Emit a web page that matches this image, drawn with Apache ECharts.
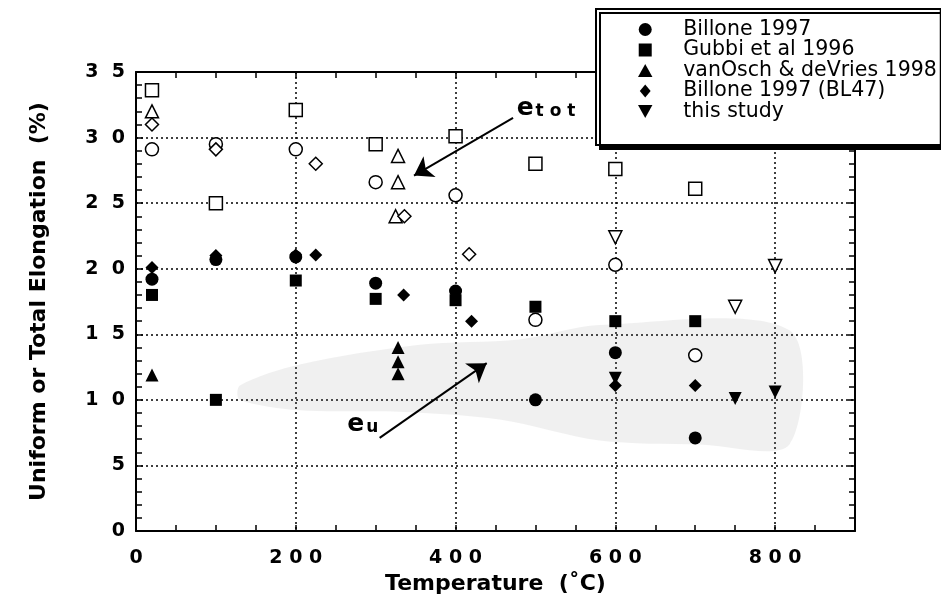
<!DOCTYPE html>
<html>
<head>
<meta charset="utf-8">
<script src="https://cdn.jsdelivr.net/npm/echarts@6/dist/echarts.min.js"></script>
<style>html,body{margin:0;padding:0;background:#fff;}#c{width:941px;height:613px;}</style>
</head>
<body>
<div id="c"></div>
<script>
// ---- data (temperature °C, elongation %) ----
const billoneU   = [[20,19.2],[100,20.7],[200,20.9],[300,18.9],[400,18.3],[500,10.0],[600,13.6],[700,7.1]];
const billoneT   = [[20,29.1],[100,29.5],[200,29.1],[300,26.6],[400,25.6],[500,16.1],[600,20.3],[700,13.4]];
const gubbiU     = [[20,18.0],[100,10.0],[200,19.1],[300,17.7],[400,17.6],[500,17.1],[600,16.0],[700,16.0]];
const gubbiT     = [[20,33.6],[100,25.0],[200,32.1],[300,29.5],[400,30.1],[500,28.0],[600,27.6],[700,26.1]];
const vanOschU   = [[20,11.9],[328,14.0],[328,12.9],[328,12.0]];
const vanOschT   = [[20,32.0],[328,28.6],[328,26.6],[325,24.0]];
const bl47U      = [[20,20.1],[100,21.0],[200,21.05],[225,21.05],[335,18.0],[420,16.0],[600,11.1],[700,11.1]];
const bl47T      = [[20,31.0],[100,29.1],[225,28.0],[336,24.0],[417,21.1]];
const studyU     = [[600,11.65],[750,10.1],[800,10.6]];
const studyT     = [[600,22.4],[750,17.1],[800,20.2]];
// shaded uniform-elongation band (outline in data units)
const bandTop    = [[130,11.1],[205,12.7],[355,14.2],[480,14.6],[580,15.7],[818,15.3]];
const bandBottom = [[818,6.6],[706,6.6],[580,6.9],[455,8.5],[330,9.1],[205,9.2],[130,10.0]];
// annotations
const arrowTot   = [[472,31.5],[348,27.1]];
const arrowU     = [[305,7.1],[439,12.8]];
const labelTot   = [489,32.0];
const labelU     = [277,7.9];
// axes
const xTicks = [0,200,400,600,800];
const yTicks = [0,5,10,15,20,25,30,35];
const legendNames = ['Billone 1997','Gubbi et al 1996','vanOsch & deVries 1998','Billone 1997 (BL47)','this study'];

const FONT = '"DejaVu Sans", sans-serif';
const spaced = (v, sep) => String(v).split('').join(sep);
const dotted = {color:'#000', width:1.5, type:[2,3]};

const chart = echarts.init(document.getElementById('c'), null, {renderer:'canvas'});

function filled(name, data, symbol, size, rot){
  return {name, type:'scatter', data, symbol, symbolSize:size, symbolRotate:rot||0,
    itemStyle:{color:'#000', opacity:1}, z:5, xAxisIndex:0, yAxisIndex:0};
}
function open(name, data, symbol, size, rot){
  return {name, type:'scatter', data, symbol, symbolSize:size, symbolRotate:rot||0,
    itemStyle:{color:'#fff', borderColor:'#000', borderWidth:1.5, opacity:1}, z:4, xAxisIndex:0, yAxisIndex:0};
}

const option = {
  animation:false,
  backgroundColor:'#fff',
  grid:{left:136, right:86, top:72, bottom:82, containLabel:false},
  xAxis:[
    {type:'value', position:'bottom', min:0, max:900, interval:50,
     axisLine:{show:true, onZero:false, lineStyle:{color:'#000', width:2}},
     axisTick:{show:true, inside:true, length:6, lineStyle:{color:'#000', width:1.5}},
     splitLine:{show:false},
     axisLabel:{margin:18, color:'#000', fontFamily:FONT, fontWeight:'bold', fontSize:19,
       formatter:v => xTicks.indexOf(v) >= 0 ? spaced(v,' ') : ''},
     name:'Temperature  (˚C)', nameLocation:'middle', nameGap:42,
     nameTextStyle:{color:'#000', fontFamily:FONT, fontWeight:'bold', fontSize:22}},
    {type:'value', position:'top', min:0, max:900, interval:50,
     axisLine:{show:true, onZero:false, lineStyle:{color:'#000', width:2}},
     axisTick:{show:true, inside:true, length:6, lineStyle:{color:'#000', width:1.5}},
     splitLine:{show:false}, axisLabel:{show:false}},
    {type:'value', position:'bottom', min:0, max:900, interval:200,
     axisLine:{show:false}, axisTick:{show:false}, axisLabel:{show:false},
     splitLine:{show:true, lineStyle:dotted}}
  ],
  yAxis:[
    {type:'value', position:'left', min:0, max:35, interval:5,
     axisLine:{show:true, onZero:false, lineStyle:{color:'#000', width:2}},
     axisTick:{show:true, inside:true, length:7, lineStyle:{color:'#000', width:1.5}},
     minorTick:{show:true, splitNumber:5, length:6, lineStyle:{color:'#000', width:1.5}},
     splitLine:{show:true, lineStyle:dotted},
     axisLabel:{margin:11, color:'#000', fontFamily:FONT, fontWeight:'bold', fontSize:19,
       formatter:v => yTicks.indexOf(v) >= 0 ? spaced(v,'  ') : ''},
     name:'Uniform or Total Elongation  (%)', nameLocation:'middle', nameGap:86, nameRotate:90,
     nameTextStyle:{color:'#000', fontFamily:FONT, fontWeight:'bold', fontSize:22}},
    {type:'value', position:'right', min:0, max:35, interval:5,
     axisLine:{show:true, onZero:false, lineStyle:{color:'#000', width:2}},
     axisTick:{show:true, inside:true, length:7, lineStyle:{color:'#000', width:1.5}},
     minorTick:{show:true, splitNumber:5, length:6, lineStyle:{color:'#000', width:1.5}},
     splitLine:{show:false}, axisLabel:{show:false}}
  ],
  legend:{
    orient:'vertical', left:596, top:9,
    padding:[10,4,23,42], itemGap:-0.5, itemWidth:66, itemHeight:13,
    backgroundColor:'#fff', borderColor:'#000', borderWidth:2,
    shadowColor:'#000', shadowBlur:0, shadowOffsetX:4, shadowOffsetY:4,
    textStyle:{color:'#000', fontFamily:'"DejaVu Sans", sans-serif', fontSize:20.5, lineHeight:19},
    data:[
      {name:legendNames[0], icon:'path://M1,0A1,1 0 1,1 1,2A1,1 0 1,1 1,0Z'},
      {name:legendNames[1], icon:'path://M0,0H2V2H0Z'},
      {name:legendNames[2], icon:'path://M1,0L2,1.8L0,1.8Z'},
      {name:legendNames[3], icon:'path://M1,0L2,1.2L1,2.4L0,1.2Z'},
      {name:legendNames[4], icon:'path://M0,0L2,0L1,1.8Z'}
    ]
  },
  series:[
    {type:'custom', name:'band', xAxisIndex:0, yAxisIndex:0, z:1, silent:true,
     data:[0],
     renderItem:(params, api) => {
       const pts = bandTop.concat(bandBottom).map(p => api.coord(p));
       return {type:'polygon', shape:{points:pts, smooth:0.3},
         style:{fill:'rgba(140,140,140,0.13)', stroke:null}};
     }},
    filled(legendNames[0], billoneU, 'circle', 13),
    filled(legendNames[1], gubbiU, 'rect', 12),
    filled(legendNames[2], vanOschU, 'triangle', 13),
    filled(legendNames[3], bl47U, 'diamond', 13),
    filled(legendNames[4], studyU, 'triangle', 13, 180),
    open('Billone 1997 total', billoneT, 'circle', 13),
    open('Gubbi total', gubbiT, 'rect', 13),
    open('vanOsch total', vanOschT, 'triangle', 13),
    open('BL47 total', bl47T, 'diamond', 13),
    open('this study total', studyT, 'triangle', 13, 180),
    {type:'lines', coordinateSystem:'cartesian2d', xAxisIndex:0, yAxisIndex:0, z:6, silent:true,
     symbol:['none','arrow'], symbolSize:[12,18],
     lineStyle:{color:'#000', width:2, opacity:1},
     data:[{coords:arrowTot},{coords:arrowU}]},
    {type:'scatter', xAxisIndex:0, yAxisIndex:0, symbolSize:0, z:7, silent:true,
     itemStyle:{opacity:1},
     data:[
       {value:labelTot, label:{show:true, position:'right', distance:-10, formatter:'{e|e}{s|t o t}'}},
       {value:labelU, label:{show:true, position:'right', distance:-10, formatter:'{e|e}{s|u}'}}
     ],
     label:{color:'#000', opacity:1, rich:{
       e:{fontFamily:FONT, fontWeight:'bold', fontSize:25, color:'#000', padding:[0,0,5,0]},
       s:{fontFamily:FONT, fontWeight:'bold', fontSize:17, color:'#000', padding:[0,0,0,2]}
     }}}
  ]
};
chart.setOption(option);
</script>
</body>
</html>
